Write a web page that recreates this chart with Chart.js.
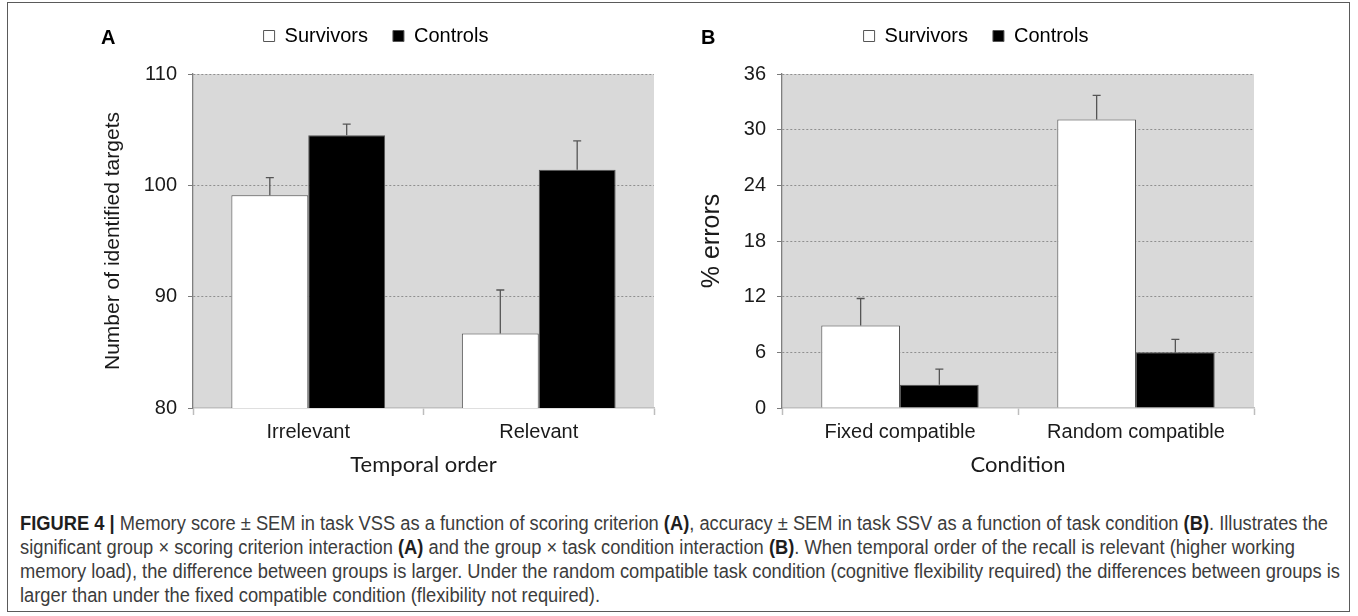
<!DOCTYPE html>
<html>
<head>
<meta charset="utf-8">
<script src="https://cdn.jsdelivr.net/npm/chart.js@4.4.1/dist/chart.umd.min.js"></script>
<style>
body { margin: 0; background: #fff; }
#wrap { position: relative; width: 1358px; height: 616px; overflow: hidden; }
canvas { position: absolute; top: 0; }
#chartA { left: 0; }
#chartB { left: 680px; }
.panel { position: absolute; top: 26px; font: bold 20px "Liberation Sans", Arial, sans-serif; line-height: 23px; color: #000; }
#frame { position: absolute; left: 7px; top: 2px; width: 1343px; height: 610px; border: 1px solid #5a5a5a; box-sizing: border-box; }
#caption { position: absolute; left: 20px; top: 511px; font-family: "Liberation Sans Narrow", "Liberation Sans", Arial, sans-serif;
  font-size: 20px; line-height: 24px; color: #3c3c3c; white-space: nowrap; transform-origin: 0 0; }
#caption b { color: #1e1e1e; }
</style>
</head>
<body>
<div id="wrap">
  <div id="frame"></div>
  <canvas id="chartA" width="680" height="488"></canvas>
  <canvas id="chartB" width="678" height="488"></canvas>
  <div class="panel" style="left:101px">A</div>
  <div class="panel" style="left:701px">B</div>
  <div id="caption">
    <div id="line1"><b>FIGURE 4 |</b> Memory score ± SEM in task VSS as a function of scoring criterion <b>(A)</b>, accuracy ± SEM in task SSV as a function of task condition <b>(B)</b>. Illustrates the</div>
    <div>significant group × scoring criterion interaction <b>(A)</b> and the group × task condition interaction <b>(B)</b>. When temporal order of the recall is relevant (higher working</div>
    <div>memory load), the difference between groups is larger. Under the random compatible task condition (cognitive flexibility required) the differences between groups is</div>
    <div>larger than under the fixed compatible condition (flexibility not required).</div>
  </div>
</div>
<script>
// panel A: memory score
const orderLabels = ["Irrelevant", "Relevant"];
const survivorsA = [99.1, 86.7];
const survivorsErrA = [1.6, 3.9];
const controlsA = [104.5, 101.4];
const controlsErrA = [1.0, 2.6];

// panel B: % errors
const conditionLabels = ["Fixed compatible", "Random compatible"];
const survivorsB = [8.9, 31.1];
const survivorsErrB = [2.9, 2.6];
const controlsB = [2.5, 6.0];
const controlsErrB = [1.7, 1.4];

const plotBg = {
  id: 'plotBg',
  beforeDraw(chart) {
    const a = chart.chartArea, ctx = chart.ctx;
    ctx.save();
    ctx.fillStyle = '#d9d9d9';
    ctx.fillRect(a.left, a.top, a.right - a.left, a.bottom - a.top);
    ctx.restore();
  }
};

const errorBars = {
  id: 'errorBars',
  afterDatasetsDraw(chart, args, opts) {
    const ctx = chart.ctx, y = chart.scales.y;
    ctx.save();
    ctx.strokeStyle = '#555';
    ctx.lineWidth = 1.3;
    chart.data.datasets.forEach((ds, i) => {
      chart.getDatasetMeta(i).data.forEach((bar, j) => {
        const top = y.getPixelForValue(ds.data[j] + opts.errors[i][j]);
        ctx.beginPath();
        ctx.moveTo(bar.x, bar.y);
        ctx.lineTo(bar.x, top);
        ctx.moveTo(bar.x - 4, top);
        ctx.lineTo(bar.x + 4, top);
        ctx.stroke();
      });
    });
    ctx.restore();
  }
};

// move the legend row to where it sits in the figure
const legendShift = {
  id: 'legendShift',
  afterLayout(chart, args, opts) {
    const lg = chart.legend;
    const dx = opts.cx - (lg.left + lg.right) / 2;
    const dy = (opts.cy - 35) - lg.top;
    lg.left += dx; lg.right += dx;
    lg.top += dy; lg.bottom += dy;
  }
};

function makeChart(id, labels, surv, ctrl, survErr, ctrlErr, yMin, yMax, step, yTitle, titleSize, titlePad, xTitle, yWidth, rightPad, legendX) {
  return new Chart(document.getElementById(id), {
    type: 'bar',
    data: {
      labels: labels,
      datasets: [
        { label: 'Survivors', data: surv, backgroundColor: '#ffffff', borderColor: '#555555', borderWidth: 1,
          categoryPercentage: 0.667, barPercentage: 1 },
        { label: 'Controls', data: ctrl, backgroundColor: '#000000', borderColor: '#555555', borderWidth: 1,
          categoryPercentage: 0.667, barPercentage: 1 }
      ]
    },
    options: {
      responsive: false,
      animation: false,
      events: [],
      layout: { padding: { left: 0, right: rightPad, top: 19, bottom: 0 } },
      plugins: {
        legend: {
          position: 'top',
          labels: { boxWidth: 11, boxHeight: 11, padding: 25, color: '#000',
                    font: { family: '"Liberation Sans", Arial', size: 20 } }
        },
        tooltip: { enabled: false },
        errorBars: { errors: [survErr, ctrlErr] },
        legendShift: { cx: legendX, cy: 36 }
      },
      scales: {
        x: {
          afterFit(s) { s.height = 80; },
          grid: { offset: true, drawOnChartArea: false, tickLength: 7, tickColor: '#bdbdbd', tickWidth: 1.5 },
          border: { color: '#c0c0c0', width: 1.5 },
          ticks: { color: '#1a1a1a', padding: 5, maxRotation: 0,
                   font: { family: '"Liberation Sans", Arial', size: 20 } },
          title: { display: true, text: xTitle, color: '#1a1a1a', padding: { top: 0, bottom: 10 },
                   font: { family: 'Lato', size: 22 } }
        },
        y: {
          min: yMin, max: yMax,
          afterFit(s) { s.width = yWidth; },
          grid: {
            color: c => c.tick && c.tick.value === yMin ? 'rgba(0,0,0,0)' : '#8f8f8f',
            lineWidth: 1, tickLength: 5, tickColor: '#7a7a7a', tickBorderDash: [0, 0]
          },
          border: { color: '#7f7f7f', width: 1.3, dash: [2, 2] },
          ticks: { stepSize: step, color: '#1a1a1a', padding: 11,
                   font: { family: '"Liberation Sans", Arial', size: 20 } },
          title: { display: true, text: yTitle, color: '#1a1a1a', padding: { top: titlePad, bottom: 0 },
                   font: { family: '"Liberation Sans", Arial', size: titleSize } }
        }
      }
    },
    plugins: [plotBg, errorBars, legendShift]
  });
}

makeChart('chartA', orderLabels, survivorsA, controlsA, survivorsErrA, controlsErrA,
  80, 110, 10, 'Number of identified targets', 21, 101, 'Temporal order', 193, 26, 376);
makeChart('chartB', conditionLabels, survivorsB, controlsB, survivorsErrB, controlsErrB,
  0, 36, 6, '% errors', 25, 17, 'Condition', 102, 104, 296);

// fit the caption lines to the width they take in the figure
const cap = document.getElementById('caption');
const w = document.getElementById('line1').getBoundingClientRect().width;
cap.style.transform = 'scaleX(' + (1320 / w) + ')';
</script>
</body>
</html>
